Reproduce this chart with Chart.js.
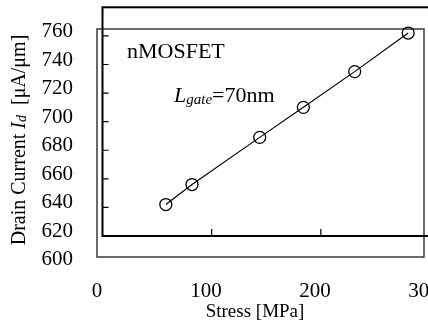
<!DOCTYPE html>
<html><head><meta charset="utf-8">
<script src="https://cdn.jsdelivr.net/npm/chart.js@4.4.0/dist/chart.umd.min.js"></script>
<style>
html,body{margin:0;padding:0;background:#fff;overflow:hidden;width:428px;height:327px;}
#c1,#c2{position:absolute;left:0;top:0;}
</style></head><body>
<canvas id="c1" width="428" height="327"></canvas>
<canvas id="c2" width="440" height="327"></canvas>
<script>
// ---- data ----
const stress = [58, 82, 144, 184, 231, 280];          // MPa
const drainCurrent = [642, 656, 689, 710, 735, 762];  // uA/um
const xTickValues = [0, 100, 200, 300];
const yTickValues = [600, 620, 640, 660, 680, 700, 720, 740, 760];
const xTitle = 'Stress [MPa]';
const yTitleParts = ['Drain Current ', 'I', 'd', '  [\u03bcA/\u03bcm]'];
const label1 = 'nMOSFET';
const label2Parts = ['L', 'gate', '=70nm'];

const SERIF = '"Liberation Serif", "Times New Roman", serif';

// ---- outer chart (frame with labels) ----
const outerFrame = {
  id: 'outerFrame',
  afterDraw(chart) {
    const a = chart.chartArea, ctx = chart.ctx;
    ctx.save();
    ctx.strokeStyle = '#3a3a3a';
    ctx.lineWidth = 1.5;
    ctx.strokeRect(a.left, a.top, a.right - a.left, a.bottom - a.top);
    // x title
    ctx.fillStyle = '#000';
    ctx.font = '19px ' + SERIF;
    ctx.textAlign = 'center';
    ctx.textBaseline = 'alphabetic';
    ctx.fillText(xTitle, 255, 317);
    // y title with mixed styles
    ctx.textAlign = 'left';
    ctx.translate(25, 140);
    ctx.rotate(-Math.PI / 2);
    const fonts = ['20px ' + SERIF, 'italic 20px ' + SERIF, 'italic 14px ' + SERIF, '20px ' + SERIF];
    const shifts = [0, 0, 1, 0];
    let w = 0;
    yTitleParts.forEach((t, i) => { ctx.font = fonts[i]; w += ctx.measureText(t).width; });
    let x = -w / 2;
    yTitleParts.forEach((t, i) => {
      ctx.font = fonts[i];
      ctx.fillText(t, x, shifts[i]);
      x += ctx.measureText(t).width;
    });
    ctx.restore();
  }
};

new Chart(document.getElementById('c1'), {
  type: 'scatter',
  data: { datasets: [{ data: [], pointRadius: 0 }] },
  options: {
    responsive: false, animation: false,
    layout: { padding: { top: 29, right: 4, left: 0, bottom: 0 } },
    plugins: { legend: { display: false }, tooltip: { enabled: false } },
    scales: {
      x: {
        type: 'linear', min: 0, max: 300,
        grid: { display: false, drawTicks: false },
        border: { display: false },
        afterBuildTicks: s => { s.ticks = xTickValues.map(v => ({ value: v })); },
        ticks: { autoSkip: false, maxRotation: 0, padding: 22, color: '#000',
                 font: { family: SERIF, size: 21 } },
        afterFit: s => { s.height = 70; s.paddingRight = 0; s.paddingLeft = 0; }
      },
      y: {
        type: 'linear', min: 600, max: 760,
        grid: { display: false, drawTicks: false },
        border: { display: false },
        afterBuildTicks: s => { s.ticks = yTickValues.map(v => ({ value: v })); },
        ticks: { autoSkip: false, padding: 24, labelOffset: 2.5, color: '#000',
                 font: { family: SERIF, size: 21 } },
        afterFit: s => { s.width = 97; s.paddingTop = 0; s.paddingBottom = 0; }
      }
    }
  },
  plugins: [outerFrame]
});

// ---- inner chart (data plot, offset frame) ----
const innerFrame = {
  id: 'innerFrame',
  beforeDatasetsDraw(chart) {
    const a = chart.chartArea, ctx = chart.ctx;
    const xs = chart.scales.x, ys = chart.scales.y;
    ctx.save();
    ctx.strokeStyle = '#000';
    ctx.lineWidth = 2;
    ctx.strokeRect(a.left, a.top, a.right - a.left, a.bottom - a.top);
    ctx.lineWidth = 1.2;
    ctx.beginPath();
    ys.ticks.forEach(t => {
      const y = ys.getPixelForValue(t.value);
      if (y > a.top + 2 && y < a.bottom - 2) { ctx.moveTo(a.left, y); ctx.lineTo(a.left + 6, y); }
    });
    xs.ticks.forEach(t => {
      const x = xs.getPixelForValue(t.value);
      if (x > a.left + 2 && x < a.right - 2) { ctx.moveTo(x, a.bottom); ctx.lineTo(x, a.bottom - 7); }
    });
    ctx.stroke();
    // annotations
    ctx.fillStyle = '#000';
    ctx.textBaseline = 'alphabetic';
    ctx.font = '22px ' + SERIF;
    ctx.fillText(label1, 127, 58);
    let x = 174;
    ctx.font = 'italic 22px ' + SERIF;
    ctx.fillText(label2Parts[0], x, 101.5);
    x += ctx.measureText(label2Parts[0]).width;
    ctx.font = 'italic 15px ' + SERIF;
    ctx.fillText(label2Parts[1], x, 103.5);
    x += ctx.measureText(label2Parts[1]).width;
    ctx.font = '22px ' + SERIF;
    ctx.fillText(label2Parts[2], x, 101.5);
    ctx.restore();
  }
};

new Chart(document.getElementById('c2'), {
  type: 'line',
  data: {
    datasets: [{
      data: stress.map((s, i) => ({ x: s, y: drainCurrent[i] })),
      borderColor: '#000', borderWidth: 1.2, tension: 0,
      pointRadius: 6, pointStyle: 'circle', pointBorderWidth: 1.3,
      pointBorderColor: '#000', pointBackgroundColor: 'rgba(0,0,0,0)'
    }]
  },
  options: {
    responsive: false, animation: false,
    layout: { padding: { left: 102.5, top: 6, right: 10, bottom: 91 } },
    plugins: { legend: { display: false }, tooltip: { enabled: false } },
    scales: {
      x: { type: 'linear', display: false, min: 0, max: 300, ticks: { stepSize: 100 } },
      y: { type: 'linear', display: false, min: 620, max: 780, ticks: { stepSize: 20 } }
    }
  },
  plugins: [innerFrame]
});
</script>
</body></html>
